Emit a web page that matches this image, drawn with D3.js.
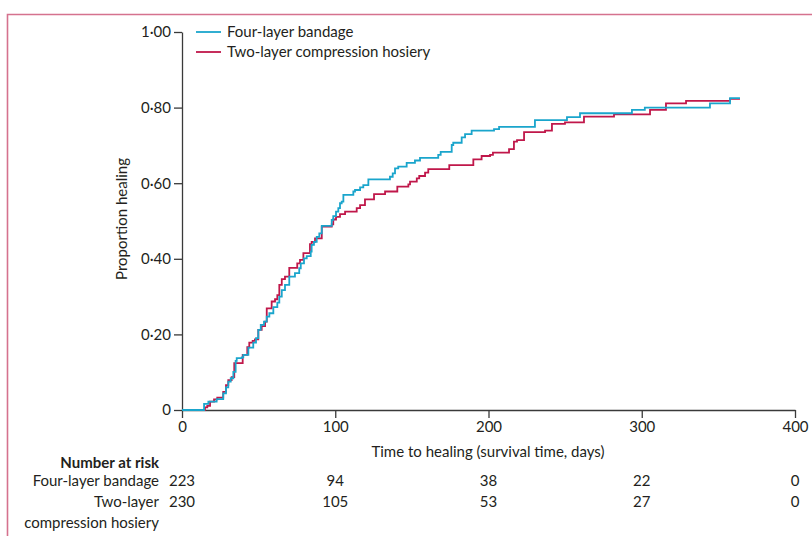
<!DOCTYPE html>
<html>
<head>
<meta charset="utf-8">
<script src="https://cdn.jsdelivr.net/npm/d3@7"></script>
<style>
  body { margin: 0; background: #fff; }
  svg text { font-family: Lato, "Open Sans", sans-serif; fill: #231f20; }
</style>
</head>
<body>
<div id="chart"></div>
<script>
// Kaplan-Meier steps: day of each step and proportion healed after it
var fourLayerDays = [0, 14.4, 17.2, 22.6, 26.9, 28.7, 30.2, 31.8, 33.5, 35.0, 35.7, 39.0, 40.0, 43.3, 46.5, 48.3, 49.8, 51.4, 53.5, 55.3, 57.0, 59.6, 62.2, 63.5, 65.1, 67.2, 70.0, 73.7, 76.5, 77.5, 79.6, 81.4, 84.0, 84.6, 86.1, 87.9, 89.6, 91.2, 97.7, 98.7, 100.5, 102.0, 103.1, 104.2, 105.3, 111.8, 112.9, 116.2, 118.3, 121.6, 135.7, 137.5, 139.0, 141.1, 146.6, 152.0, 155.3, 167.2, 168.8, 176.0, 177.0, 182.5, 184.7, 189.0, 203.6, 206.9, 230.3, 251.2, 259.7, 293.6, 302.0, 344.5, 357.6, 364.1];
var fourLayerProp = [0, 0.016, 0.022, 0.029, 0.044, 0.060, 0.075, 0.084, 0.101, 0.130, 0.137, 0.139, 0.146, 0.165, 0.178, 0.190, 0.212, 0.225, 0.234, 0.247, 0.256, 0.272, 0.284, 0.300, 0.317, 0.331, 0.353, 0.362, 0.375, 0.388, 0.401, 0.407, 0.419, 0.437, 0.445, 0.458, 0.467, 0.487, 0.503, 0.513, 0.525, 0.534, 0.547, 0.551, 0.569, 0.578, 0.582, 0.589, 0.595, 0.610, 0.617, 0.626, 0.639, 0.644, 0.654, 0.660, 0.667, 0.675, 0.683, 0.701, 0.707, 0.721, 0.730, 0.739, 0.743, 0.749, 0.767, 0.775, 0.785, 0.794, 0.800, 0.811, 0.825, 0.825];

var twoLayerDays = [0, 15.0, 16.5, 18.3, 20.9, 23.0, 26.9, 28.7, 30.2, 32.4, 34.1, 39.6, 42.6, 43.9, 46.1, 47.6, 49.8, 52.0, 54.2, 55.3, 58.5, 60.7, 62.2, 63.5, 65.1, 67.2, 70.0, 75.2, 77.0, 79.2, 83.5, 84.6, 86.8, 91.2, 97.7, 98.7, 100.5, 103.1, 106.4, 114.0, 116.2, 119.4, 125.3, 132.5, 140.5, 147.7, 148.8, 153.2, 154.8, 158.6, 160.7, 174.4, 190.1, 195.5, 201.0, 202.9, 213.4, 216.6, 218.6, 223.2, 236.9, 241.4, 249.9, 262.3, 281.9, 305.4, 315.8, 328.9, 357.6, 364.1];
var twoLayerProp = [0, 0.007, 0.011, 0.022, 0.028, 0.033, 0.048, 0.066, 0.079, 0.087, 0.124, 0.146, 0.166, 0.178, 0.183, 0.187, 0.212, 0.222, 0.234, 0.269, 0.287, 0.293, 0.304, 0.331, 0.346, 0.353, 0.376, 0.388, 0.397, 0.415, 0.439, 0.445, 0.454, 0.485, 0.491, 0.504, 0.511, 0.518, 0.525, 0.534, 0.542, 0.557, 0.571, 0.578, 0.591, 0.597, 0.604, 0.613, 0.619, 0.628, 0.637, 0.648, 0.663, 0.672, 0.675, 0.681, 0.690, 0.710, 0.714, 0.735, 0.739, 0.757, 0.761, 0.776, 0.782, 0.794, 0.811, 0.818, 0.823, 0.823];

var seriesNames = ["Four-layer bandage", "Two-layer compression hosiery"];
var xTicks = [0, 100, 200, 300, 400];
var yTicks = [0, 0.2, 0.4, 0.6, 0.8, 1.0];
var riskTimes = [0, 100, 200, 300, 400];
var riskFourLayer = [223, 94, 38, 22, 0];
var riskTwoLayer = [230, 105, 53, 27, 0];

var colours = ["#1aa5cc", "#c0174a"];

var width = 812, height = 536;

var svg = d3.select("#chart").append("svg")
    .attr("width", width)
    .attr("height", height);

// pink frame (top + left edge, runs off the page)
svg.append("path")
    .attr("d", "M7.5," + height + " V14.5 H" + width)
    .attr("fill", "none")
    .attr("stroke", "#d5728e")
    .attr("stroke-width", 1.6);

var x = d3.scaleLinear().domain([0, 400]).range([182, 795]);
var y = d3.scaleLinear().domain([0, 1]).range([410, 32]);

var fmt = function(d) { return d === 0 ? "0" : d3.format(".2f")(d).replace(".", "\u00b7"); };

var yAxis = svg.append("g")
    .attr("transform", "translate(" + x(0) + ",0)")
    .call(d3.axisLeft(y).tickValues(yTicks).tickFormat(fmt).tickSize(8).tickSizeOuter(0).tickPadding(3));

var xAxis = svg.append("g")
    .attr("transform", "translate(0," + y(0) + ")")
    .call(d3.axisBottom(x).tickValues(xTicks).tickFormat(d3.format("d")).tickSize(8).tickSizeOuter(0).tickPadding(3));

[yAxis, xAxis].forEach(function(a) {
    a.selectAll("path, line").attr("stroke", "#3a3a3a").attr("stroke-width", 1.3);
    a.selectAll("text").style("font-size", "15px").attr("fill", "#231f20");
});

// axis titles
svg.append("text")
    .attr("transform", "translate(127,219) rotate(-90)")
    .attr("text-anchor", "middle")
    .style("font-size", "15px")
    .text("Proportion healing");

svg.append("text")
    .attr("x", 488).attr("y", 457)
    .attr("text-anchor", "middle")
    .style("font-size", "15px")
    .text("Time to healing (survival time, days)");

// curves
var line = d3.line()
    .x(function(d) { return x(d[0]); })
    .y(function(d) { return y(d[1]); })
    .curve(d3.curveStepAfter);

var curves = [
    d3.zip(fourLayerDays, fourLayerProp),
    d3.zip(twoLayerDays, twoLayerProp)
];

// draw the red one first so blue sits on top where they overlap
[1, 0].forEach(function(i) {
    svg.append("path")
        .datum(curves[i])
        .attr("fill", "none")
        .attr("stroke", colours[i])
        .attr("stroke-width", 1.8)
        .attr("d", line);
});

// legend
var legend = svg.append("g").attr("transform", "translate(196,32)");
seriesNames.forEach(function(name, i) {
    legend.append("line")
        .attr("x1", 0).attr("x2", 25)
        .attr("y1", i * 20).attr("y2", i * 20)
        .attr("stroke", colours[i])
        .attr("stroke-width", 1.8);
    legend.append("text")
        .attr("x", 31).attr("y", i * 20)
        .attr("dy", "0.35em")
        .style("font-size", "15px")
        .text(name);
});

// number at risk table
var labelX = 159;
svg.append("text")
    .attr("x", labelX).attr("y", 468)
    .attr("text-anchor", "end")
    .style("font-size", "15px")
    .style("font-weight", "bold")
    .text("Number at risk");

var rows = [
    { labels: ["Four-layer bandage"], values: riskFourLayer, y: 486 },
    { labels: ["Two-layer", "compression hosiery"], values: riskTwoLayer, y: 507 }
];

rows.forEach(function(r) {
    r.labels.forEach(function(l, j) {
        svg.append("text")
            .attr("x", labelX).attr("y", r.y + j * 21)
            .attr("text-anchor", "end")
            .style("font-size", "15px")
            .text(l);
    });
    svg.selectAll(null)
        .data(r.values)
        .enter().append("text")
        .attr("x", function(d, i) { return x(riskTimes[i]); })
        .attr("y", r.y)
        .attr("text-anchor", "middle")
        .style("font-size", "15px")
        .text(function(d) { return d; });
});
</script>
</body>
</html>
